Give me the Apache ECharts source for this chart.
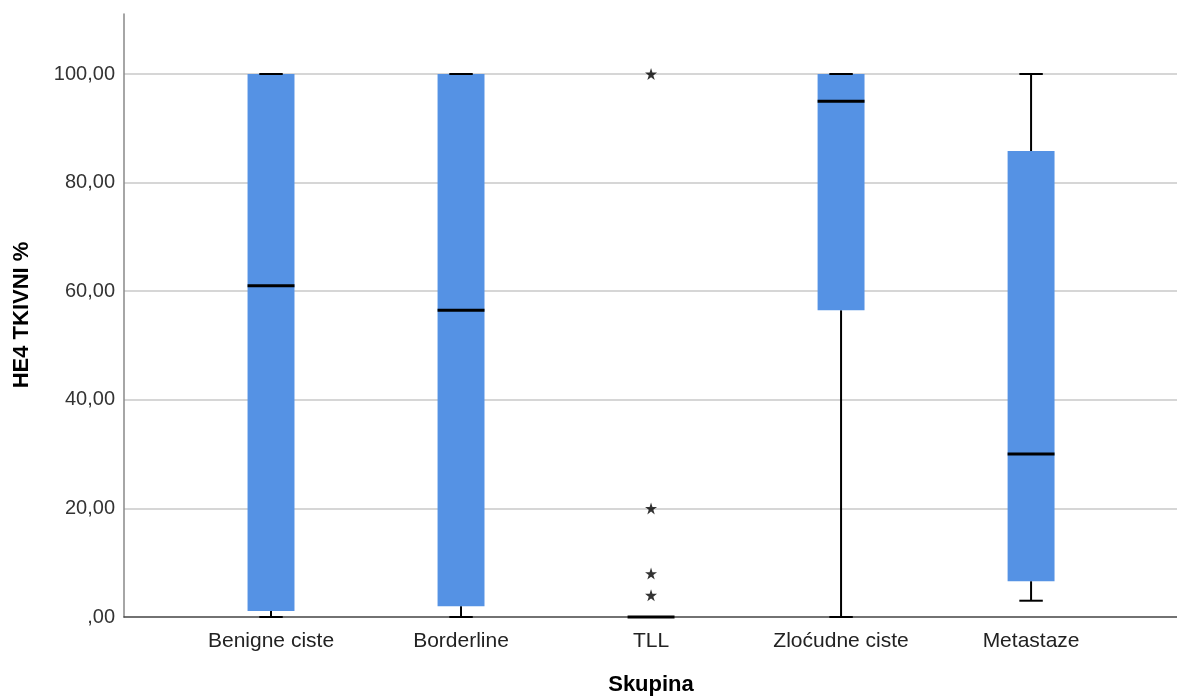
<!DOCTYPE html>
<html>
<head>
<meta charset="utf-8">
<script src="https://cdn.jsdelivr.net/npm/echarts@6/dist/echarts.min.js"></script>
<style>html,body{margin:0;padding:0;background:#fff}#chart{width:1177px;height:699px}</style>
</head>
<body>
<div id="chart"></div>
<script>
// Data
var categories = ['Benigne ciste', 'Borderline', 'TLL', 'Zloćudne ciste', 'Metastaze'];
var whiskerLow = [0, 0, 0, 0, 3];
var q1Values = [1.1, 2, 0, 56.5, 6.6];
var medians = [61, 56.5, 0, 95, 30];
var q3Values = [100, 100, 0, 100, 85.8];
var whiskerHigh = [100, 100, 0, 100, 100];
var outlierCategory = ['TLL', 'TLL', 'TLL', 'TLL'];
var outlierValues = [100, 20, 8, 4];
var yTicks = [0, 20, 40, 60, 80, 100];

var boxData = categories.map(function (c, i) {
  return [i + 1, whiskerLow[i], q1Values[i], medians[i], q3Values[i], whiskerHigh[i]];
});
var outlierData = outlierValues.map(function (v, i) {
  return [categories.indexOf(outlierCategory[i]) + 1, v];
});

var chart = echarts.init(document.getElementById('chart'), null, {renderer: 'canvas'});
var BOX_W = 0.247; // in category units
var starPath = 'path://M50,0 L61.8,35.5 L100,35.5 L69.1,57.4 L80.9,93 L50,71 L19.1,93 L30.9,57.4 L0,35.5 L38.2,35.5 Z';

function renderBox(params, api) {
  var x = api.value(0);
  var lo = api.coord([x, api.value(1)]);
  var q1 = api.coord([x, api.value(2)]);
  var md = api.coord([x, api.value(3)]);
  var q3 = api.coord([x, api.value(4)]);
  var hi = api.coord([x, api.value(5)]);
  var left = api.coord([x - BOX_W / 2, 0])[0];
  var right = api.coord([x + BOX_W / 2, 0])[0];
  var capL = api.coord([x - BOX_W / 4, 0])[0];
  var capR = api.coord([x + BOX_W / 4, 0])[0];
  var cx = lo[0];
  var children = [];
  var ls = {stroke: '#000', lineWidth: 2};
  if (Math.abs(lo[1] - q1[1]) > 0.5) {
    children.push({type: 'line', shape: {x1: cx, y1: lo[1], x2: cx, y2: q1[1]}, style: ls});
  }
  if (Math.abs(q3[1] - hi[1]) > 0.5) {
    children.push({type: 'line', shape: {x1: cx, y1: hi[1], x2: cx, y2: q3[1]}, style: ls});
  }
  if (Math.abs(q1[1] - q3[1]) > 0.5) {
    children.push({type: 'rect', shape: {x: left, y: q3[1], width: right - left, height: q1[1] - q3[1]},
      style: {fill: '#5592e4', stroke: null}});
  }
  children.push({type: 'line', shape: {x1: capL, y1: lo[1], x2: capR, y2: lo[1]}, style: ls});
  children.push({type: 'line', shape: {x1: capL, y1: hi[1], x2: capR, y2: hi[1]}, style: ls});
  children.push({type: 'line', shape: {x1: left, y1: md[1], x2: right, y2: md[1]}, style: {stroke: '#000', lineWidth: 3}});
  return {type: 'group', children: children};
}

function fmtY(v) {
  if (yTicks.indexOf(v) < 0) return '';
  if (v === 0) return ',00';
  return v.toFixed(2).replace('.', ',');
}

chart.setOption({
  animation: false,
  backgroundColor: '#fff',
  grid: {left: 124, right: 0, top: 14, bottom: 82, containLabel: false},
  xAxis: {
    type: 'value',
    min: 0.2263,
    max: 5.768,
    axisLine: {show: true, lineStyle: {color: '#444', width: 1.5}},
    axisTick: {show: false},
    splitLine: {show: false},
    axisLabel: {
      customValues: [1, 2, 3, 4, 5],
      formatter: function (v) { return categories[Math.round(v) - 1] || ''; },
      color: '#222', fontSize: 21, fontFamily: 'Liberation Sans, Arial, sans-serif', margin: 14
    }
  },
  yAxis: {
    type: 'value',
    min: 0,
    max: 111.05,
    interval: 20,
    axisLine: {show: true, lineStyle: {color: '#888', width: 1.5}},
    axisTick: {show: false},
    splitLine: {show: true, showMaxLine: false, showMinLine: false, lineStyle: {color: '#c8c8c8', width: 1.5}},
    axisLabel: {
      formatter: fmtY, showMaxLabel: false,
      color: '#333', fontSize: 20, fontFamily: 'Liberation Sans, Arial, sans-serif', margin: 9
    }
  },
  series: [
    {type: 'custom', renderItem: renderBox, data: boxData, z: 3,
      encode: {x: 0, y: [1, 2, 3, 4, 5]}},
    {type: 'scatter', data: outlierData, symbol: starPath, symbolSize: 12,
      itemStyle: {color: '#000'}, z: 4}
  ],
  graphic: [
    {type: 'text', style: {text: 'Skupina', font: 'bold 22px "Liberation Sans", Arial, sans-serif', fill: '#000', align: 'center', verticalAlign: 'middle'}, x: 651, y: 685},
    {type: 'text', style: {text: 'HE4 TKIVNI %', font: 'bold 22px "Liberation Sans", Arial, sans-serif', fill: '#000', align: 'center', verticalAlign: 'middle'}, x: 22, y: 315, rotation: Math.PI / 2}
  ]
});
</script>
</body>
</html>
